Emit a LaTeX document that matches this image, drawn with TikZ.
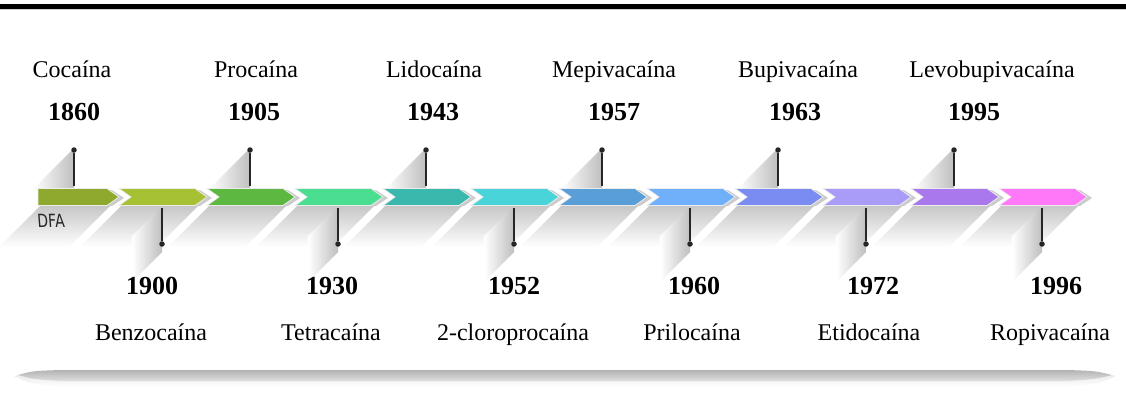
\documentclass[tikz,border=0pt]{standalone}
\usepackage{fontspec}
\setmainfont{Liberation Serif}
\newfontfamily\dfafont{DejaVu Sans}
\usetikzlibrary{calc}
\definecolor{c1}{HTML}{8FA82E}
\definecolor{c2}{HTML}{A6C234}
\definecolor{c3}{HTML}{5CB840}
\definecolor{c4}{HTML}{4ADE90}
\definecolor{c5}{HTML}{3AB8AE}
\definecolor{c6}{HTML}{48D4D8}
\definecolor{c7}{HTML}{5A9ED8}
\definecolor{c8}{HTML}{70B0FA}
\definecolor{c9}{HTML}{7A8CF2}
\definecolor{c10}{HTML}{A89CF8}
\definecolor{c11}{HTML}{A878EC}
\definecolor{c12}{HTML}{FF78F8}
\begin{document}
\begin{tikzpicture}[x=1pt,y=-1pt,
  drugname/.style={font=\fontsize{24}{28}\selectfont, anchor=base, inner sep=0pt},
  yearlabel/.style={font=\fontsize{26}{30}\selectfont\bfseries, anchor=base, inner sep=0pt},
  pindot/.style={circle, fill=black!85, inner sep=0pt, minimum size=5.5pt},
  pinline/.style={line width=1.6pt, draw=black!85},
  arrowshadow/.style={fill=gray!40},
  arrowbody/.style={draw=white!85!gray, line width=0.8pt}]
\useasboundingbox (0,0) rectangle (1126,394);
% top rule
\fill[black] (0,4) rectangle (1126,8.5);
\fill[gray!35] (0,9) rectangle (1126,10);
% bottom shadow bar
\shade[top color=gray!20, bottom color=white]
  (14,376) .. controls (30,372) .. (60,371) -- (1068,371)
  .. controls (1098,372) .. (1116,376) .. controls (1098,384) .. (1068,387)
  -- (60,387) .. controls (30,384) .. (14,376) -- cycle;
\shade[top color=gray!60, middle color=gray!80, bottom color=gray!25]
  (18,375) .. controls (32,371) .. (60,370) -- (1068,370)
  .. controls (1096,371) .. (1112,375) .. controls (1096,379) .. (1068,381)
  -- (60,381) .. controls (32,379) .. (18,375) -- cycle;
% shadows under arrows
\foreach \i in {1,...,12}{
  \pgfmathsetmacro{\xs}{\i==1 ? 38 : 119+(\i-2)*88}
  \pgfmathsetmacro{\xe}{119+(\i-1)*88}
  \shade[top color=gray!45, bottom color=white]
    (\xs+3,205) -- (\xe-8,205) -- (\xe-50,247) -- (\xs-39,247) -- cycle;
}
% pin shadows
\foreach \k in {0,...,11}{
  \pgfmathsetmacro{\px}{74+88*\k}
  \ifodd\k
    \shade[left color=white, right color=gray!50]
      (\px,206) -- (\px,252) -- (\px-30,282) -- (\px-30,236) -- cycle;
  \else
    \shade[left color=white, right color=gray!50]
      (\px,148) -- (\px,189) -- (\px-41,189) -- cycle;
  \fi
}
% arrows
\foreach \i/\col in {1/c1,2/c2,3/c3,4/c4,5/c5,6/c6,7/c7,8/c8,9/c9,10/c10,11/c11,12/c12}{
  \pgfmathsetmacro{\xs}{\i==1 ? 38 : 119+(\i-2)*88}
  \pgfmathsetmacro{\xe}{119+(\i-1)*88}
  \pgfmathsetmacro{\xn}{\i==1 ? 38 : \xs+12}
  \fill[arrowshadow] (\xs+5,190) -- (\xe-7,190) -- (\xe+5,198) -- (\xe-7,206)
    -- (\xs+5,206) -- (\xn+5,198) -- cycle;
  \path[arrowbody, fill=\col] (\xs,188.5) -- (\xe-12,188.5) -- (\xe,197) -- (\xe-12,205.5)
    -- (\xs,205.5) -- (\xn,197) -- cycle;
  \coordinate (a\i) at ({(\xs+\xe)/2},197);
}
% pins
\foreach \k in {0,...,11}{
  \pgfmathsetmacro{\px}{74+88*\k}
  \ifodd\k
    \node[pindot] (p\k) at (\px,244) {};
    \coordinate (e\k) at (\px,208);
  \else
    \node[pindot] (p\k) at (\px,150) {};
    \coordinate (e\k) at (\px,186);
  \fi
  \draw[pinline] (p\k) -- (e\k);
}
% DFA mark
\node[font=\dfafont\fontsize{14}{16}\selectfont, text=black!85, inner sep=0pt, yscale=1.3, xslant=-0.1] (dfa) at (51,221) {DFA};
% top labels
\node[drugname] (n0) at (72,77) {Cocaína};
\node[drugname] (n2) at (256,77) {Procaína};
\node[drugname] (n4) at (434,77) {Lidocaína};
\node[drugname] (n6) at (614,77) {Mepivacaína};
\node[drugname] (n8) at (798,77) {Bupivacaína};
\node[drugname] (n10) at (992,77) {Levobupivacaína};
\node[yearlabel] (y0) at (74,120) {1860};
\node[yearlabel] (y2) at (254,120) {1905};
\node[yearlabel] (y4) at (433,120) {1943};
\node[yearlabel] (y6) at (614,120) {1957};
\node[yearlabel] (y8) at (795,120) {1963};
\node[yearlabel] (y10) at (974,120) {1995};
% bottom labels
\node[yearlabel] (y1) at (152,294) {1900};
\node[yearlabel] (y3) at (332,294) {1930};
\node[yearlabel] (y5) at (514,294) {1952};
\node[yearlabel] (y7) at (694,294) {1960};
\node[yearlabel] (y9) at (873,294) {1972};
\node[yearlabel] (y11) at (1056,294) {1996};
\node[drugname] (n1) at (151,340) {Benzocaína};
\node[drugname] (n3) at (331,340) {Tetracaína};
\node[drugname] (n5) at (513,340) {2-cloroprocaína};
\node[drugname] (n7) at (692,340) {Prilocaína};
\node[drugname] (n9) at (869,340) {Etidocaína};
\node[drugname] (n11) at (1050,340) {Ropivacaína};
\end{tikzpicture}
\end{document}
